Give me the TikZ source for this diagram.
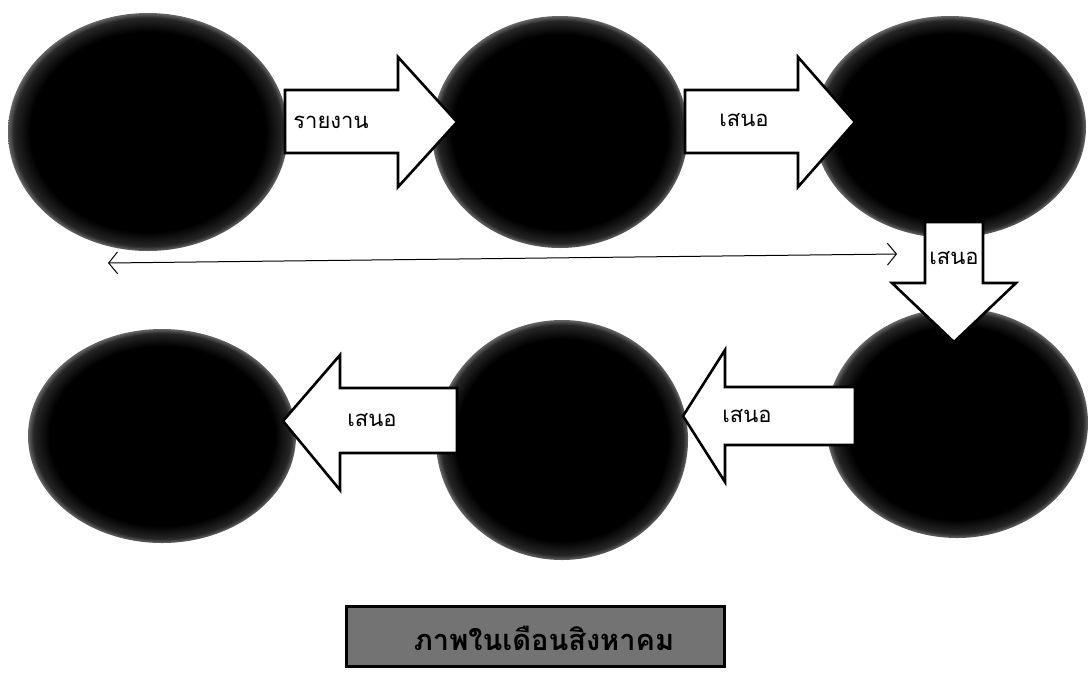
\documentclass[tikz,border=0pt]{standalone}
\usepackage{fontspec}
\newfontfamily\thai[Script=Thai]{Loma}
\usetikzlibrary{shapes.geometric,arrows.meta}
\pgfdeclareradialshading{ballshade}{\pgfpoint{0bp}{0bp}}{color(0bp)=(black); color(21bp)=(black); color(24bp)=(black!85); color(25bp)=(black!60); color(50bp)=(black!60)}
\tikzset{
  ball/.style={ellipse, shading=ballshade, draw=none, inner sep=0pt},
  blockarrow/.style={draw=black, line width=2.6pt, fill=white, line join=miter},
  lbl/.style={font=\thai\fontsize{22}{26}\selectfont, inner sep=0pt, text=black},
  thinarrow/.style={{Straight Barb[length=9pt,width=22pt]}-{Straight Barb[length=9pt,width=22pt]}, line width=1pt},
  captionbox/.style={draw=black, line width=3pt, fill=black!55, minimum width=378, minimum height=60, inner sep=0pt},
  captiontext/.style={font=\thai\bfseries\fontsize{29}{33}\selectfont, text=black, inner sep=0pt},
}
\begin{document}
\begin{tikzpicture}[x=1pt,y=-1pt]
\useasboundingbox (0,0) rectangle (1089,673);
\fill[white] (0,0) rectangle (1089,673);

% ellipses
\node[ball, minimum width=280, minimum height=238] (e1) at (148,132) {};
\node[ball, minimum width=256, minimum height=232] (e2) at (560,132) {};
\node[ball, minimum width=272, minimum height=222] (e3) at (950,127) {};
\node[ball, minimum width=268, minimum height=214] (e4) at (162,436) {};
\node[ball, minimum width=252, minimum height=240] (e5) at (562,440) {};
\node[ball, minimum width=262, minimum height=230] (e6) at (957,423) {};

% block arrows
\draw[blockarrow] (285,90) -- (398,90) -- (398,57) -- (457,122) -- (398,187) -- (398,153) -- (285,153) -- cycle;
\draw[blockarrow] (685,90) -- (798,90) -- (798,57) -- (855,122) -- (798,187) -- (798,153) -- (685,153) -- cycle;
\draw[blockarrow] (925,222) -- (983,222) -- (983,283) -- (1016,283) -- (954,342) -- (892,283) -- (925,283) -- cycle;
\draw[blockarrow] (855,387) -- (725,387) -- (725,350) -- (683,416) -- (725,482) -- (725,445) -- (855,445) -- cycle;
\draw[blockarrow] (457,388) -- (340,388) -- (340,355) -- (283,421) -- (340,490) -- (340,453) -- (457,453) -- cycle;

% labels
\node[lbl] (l1) at (331,122) {รายงาน};
\node[lbl] (l2) at (744,120) {เสนอ};
\node[lbl] (l3) at (954,258) {เสนอ};
\node[lbl] (l4) at (747,416) {เสนอ};
\node[lbl] (l5) at (372,420) {เสนอ};

% thin double arrow
\coordinate (dl) at (108,263);
\coordinate (dr) at (897,254);
\draw[thinarrow] (dl) -- (dr);

% caption
\node[captionbox] (cap) at (535,636) {};
\node[captiontext] (capt) at (544,638) {ภาพในเดือนสิงหาคม};
\end{tikzpicture}
\end{document}
